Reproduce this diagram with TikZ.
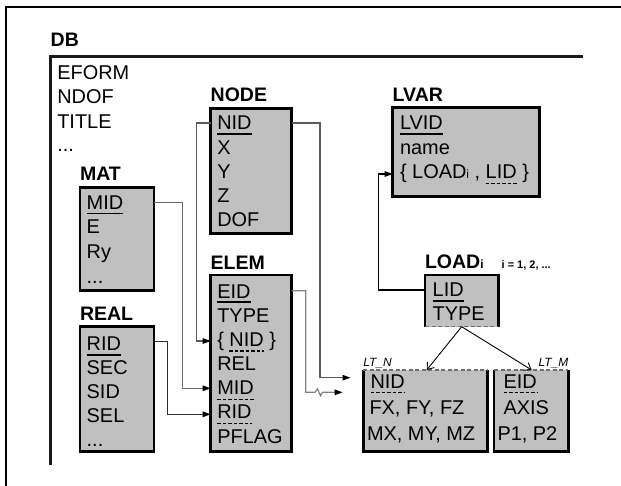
\documentclass[tikz,border=0pt]{standalone}
\usepackage{fontspec}
\setmainfont{Liberation Sans}
\usetikzlibrary{arrows.meta}
\definecolor{boxgray}{RGB}{192,192,192}
\definecolor{cnode}{RGB}{90,90,90}
\definecolor{cmat}{RGB}{105,105,105}
\definecolor{creal}{RGB}{45,45,45}
\definecolor{celem}{RGB}{130,130,130}
\definecolor{cdash}{RGB}{110,110,110}
\tikzset{
  txt/.style={inner sep=0pt, outer sep=0pt, anchor=base west, font=\fontsize{20}{24}\selectfont},
  lbl/.style={inner sep=0pt, outer sep=0pt, anchor=base west, font=\fontsize{19.6}{24}\selectfont\bfseries},
  small/.style={inner sep=0pt, outer sep=0pt, anchor=base west, font=\fontsize{11}{13}\selectfont\bfseries},
  ital/.style={inner sep=0pt, outer sep=0pt, font=\fontsize{12}{14}\selectfont\itshape},
  tbox/.style={fill=boxgray, draw=none, inner sep=0pt, outer sep=0pt, anchor=north west},
  boxline/.style={line width=2.5bp, black, line join=miter},
  dashside/.style={line width=1.5bp, cdash, dash pattern=on 4bp off 2.5bp},
  pk/.style={line width=1.8bp},
  fk/.style={line width=1.3bp, dash pattern=on 3.5bp off 2bp},
  conn/.style={line width=1.2bp, -{Triangle[length=8bp,width=5.5bp,color=black]}},
  openarr/.style={line width=0.9bp, black, -{Straight Barb[length=6bp,width=9bp]}},
}
\newcommand{\pkline}[1]{\draw[pk] ([yshift=-4bp]#1.base west) -- ([yshift=-4bp]#1.base east);}
\newcommand{\fkline}[1]{\draw[fk] ([yshift=-4.5bp]#1.base west) -- ([yshift=-4.5bp]#1.base east);}
\begin{document}
\begin{tikzpicture}[x=1bp,y=-1bp]
\useasboundingbox (0,0) rectangle (621,486);
% outer frame (left and top only visible)
\draw[line width=1.8bp] (6,486) -- (6,6.7) -- (621,6.7);
% DB
\node[lbl] (db) at (50.7,46.7) {DB};
\draw[line width=3.5bp, black!90] (582.7,56.7) -- (50.7,56.7) -- (50.7,465);
\node[txt] (eform) at (57.3,79.3) {EFORM};
\node[txt] (ndof) at (57.3,104) {NDOF};
\node[txt] (title) at (57.3,128.3) {TITLE};
\node[txt] (dbdots) at (57.3,151.7) {...};

% NODE
\node[lbl] (nodelbl) at (210.7,101.7) {NODE};
\node[tbox, minimum width=81bp, minimum height=125bp] (nodebox) at (210.7,108.3) {};
\draw[boxline] (nodebox.north west) rectangle (nodebox.south east);
\node[txt] (nnid) at (217.3,130) {NID};
\node[txt] (nx) at (217.3,154.2) {X};
\node[txt] (ny) at (217.3,178.4) {Y};
\node[txt] (nz) at (217.3,202.6) {Z};
\node[txt] (ndofr) at (217.3,226.8) {DOF};
\pkline{nnid}

% LVAR
\node[lbl] (lvarlbl) at (392.7,101.7) {LVAR};
\node[tbox, minimum width=146.6bp, minimum height=89.4bp] (lvarbox) at (392.7,107.3) {};
\draw[boxline] (lvarbox.north west) rectangle (lvarbox.south east);
\node[txt] (lvid) at (400,130) {LVID};
\node[txt] (lvname) at (400,154.5) {name};
\node[txt] (lvload) at (400,179) {\{~LOAD{\fontsize{12}{12}\selectfont i}~,~\null};
\node[txt] (lvlid) at (lvload.base east) {LID};
\node[txt] (lvclose) at (lvlid.base east) {\null~\}};
\pkline{lvid}
\fkline{lvlid}

% MAT
\node[lbl] (matlbl) at (80,180.7) {MAT};
\node[tbox, minimum width=74bp, minimum height=103bp] (matbox) at (80,187.7) {};
\draw[boxline] (matbox.north west) rectangle (matbox.south east);
\node[txt] (mmid) at (86.7,209.5) {MID};
\node[txt] (me) at (86.7,234) {E};
\node[txt] (mry) at (86.7,258.5) {Ry};
\node[txt] (mdots) at (86.7,283) {...};
\pkline{mmid}

% REAL
\node[lbl] (reallbl) at (80,320) {REAL};
\node[tbox, minimum width=74bp, minimum height=125bp] (realbox) at (80,326.7) {};
\draw[boxline] (realbox.north west) rectangle (realbox.south east);
\node[txt] (rrid) at (86.7,350.7) {RID};
\node[txt] (rsec) at (86.7,374.7) {SEC};
\node[txt] (rsid) at (86.7,398.7) {SID};
\node[txt] (rsel) at (86.7,422.7) {SEL};
\node[txt] (rdots) at (86.7,446.7) {...};
\pkline{rrid}

% ELEM
\node[lbl] (elemlbl) at (210.7,269) {ELEM};
\node[tbox, minimum width=81bp, minimum height=176.7bp] (elembox) at (210.7,275) {};
\draw[boxline] (elembox.north west) rectangle (elembox.south east);
\node[txt] (eeid) at (217.3,298.3) {EID};
\node[txt] (etype) at (217.3,322.4) {TYPE};
\node[txt] (enidopen) at (217.3,346.5) {\{~\null};
\node[txt] (enid) at (enidopen.base east) {NID};
\node[txt] (enidclose) at (enid.base east) {\null~\}};
\node[txt] (erel) at (217.3,370.6) {REL};
\node[txt] (emid) at (217.3,394.7) {MID};
\node[txt] (erid) at (217.3,418.8) {RID};
\node[txt] (epflag) at (217.3,443) {PFLAG};
\pkline{eeid}
\fkline{enid}
\fkline{emid}
\fkline{erid}

% LOADi
\node[lbl] (loadlbl) at (425,268.3) {LOAD{\fontsize{12}{12}\selectfont i}};
\node[small] (loadidx) at (501.7,268.3) {i = 1, 2, ...};
\node[tbox, minimum width=73.3bp, minimum height=51.7bp] (loadbox) at (425,275) {};
\draw[boxline] (loadbox.south west) -- (loadbox.north west) -- (loadbox.north east) -- (loadbox.south east);
\draw[dashside] (loadbox.south west) -- (loadbox.south east);
\node[txt] (llid) at (432.7,296.7) {LID};
\node[txt] (ltype) at (432.7,320) {TYPE};
\pkline{llid}

% LT_N
\node[ital, anchor=base west] (ltnlbl) at (363.3,366.7) {LT\_N};
\node[tbox, minimum width=124bp, minimum height=81.7bp] (ltnbox) at (363.3,370) {};
\draw[boxline] (ltnbox.north west) -- (ltnbox.south west) -- (ltnbox.south east) -- (ltnbox.north east);
\draw[dashside] (ltnbox.north west) -- (ltnbox.north east);
\node[txt] (tnid) at (370.5,388.3) {NID};
\node[txt] (tf) at (369.5,414.5) {FX, FY, FZ};
\node[txt] (tm) at (367,440) {MX, MY, MZ};
\fkline{tnid}

% LT_M
\node[ital, anchor=base east] (ltmlbl) at (568.3,366.7) {LT\_M};
\node[tbox, minimum width=74.3bp, minimum height=81.7bp] (ltmbox) at (494,370) {};
\draw[boxline] (ltmbox.north west) -- (ltmbox.south west) -- (ltmbox.south east) -- (ltmbox.north east);
\draw[dashside] (ltmbox.north west) -- (ltmbox.north east);
\node[txt] (teid) at (503.5,388.3) {EID};
\node[txt] (taxis) at (503.5,414.5) {AXIS};
\node[txt] (tp) at (497.5,440) {P1, P2};
\fkline{teid}

% row coordinates for connectors
\coordinate (r1) at (0,123);
\coordinate (r2) at (0,341);
\coordinate (r4a) at (0,202.7);
\coordinate (r4b) at (0,388.3);
\coordinate (r5a) at (0,341.7);
\coordinate (r5b) at (0,414.3);
\coordinate (r6a) at (0,290);
\coordinate (r6b) at (0,174);
\coordinate (r3) at (0,290.7);
\coordinate (tipA) at (350.5,377.7);
\coordinate (zzA) at (315,392.3);
\coordinate (tipB) at (342.6,392.3);

% connectors
\draw[conn, cnode] (nodebox.west |- r1) -- ++(-14,0) |- (elembox.west |- r2);
\draw[conn, cnode] (nodebox.east |- r1) -- ++(28.3,0) |- (tipA);
\draw[conn, celem] (elembox.east |- r3) -- ++(14,0) |- (zzA) -- ++(2.5,-3.5) -- ++(3,7) -- ++(2,-3.5) -- (tipB);
\draw[conn, cmat] (matbox.east |- r4a) -- ++(28.3,0) |- (elembox.west |- r4b);
\draw[conn, creal] (realbox.east |- r5a) -- ++(13.7,0) |- (elembox.west |- r5b);
\draw[conn, black] (loadbox.west |- r6a) -- ++(-46.7,0) |- (lvarbox.west |- r6b);
\draw[openarr] (loadbox.south) -- ([xshift=63.4bp]ltnbox.north west);
\draw[openarr] (loadbox.south) -- ([xshift=37.7bp]ltmbox.north west);
\end{tikzpicture}
\end{document}
